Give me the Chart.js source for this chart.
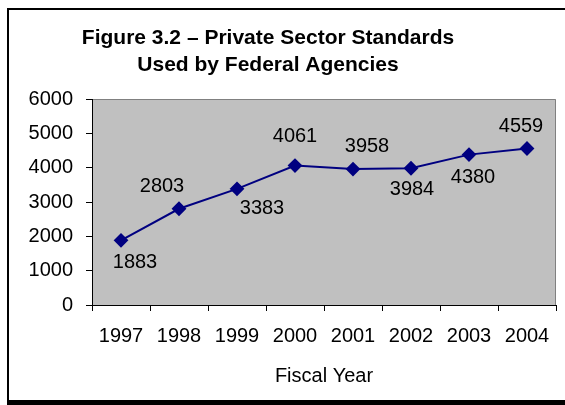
<!DOCTYPE html>
<html>
<head>
<meta charset="utf-8">
<script src="https://cdn.jsdelivr.net/npm/chart.js@4"></script>
<style>
  body { margin: 0; background: #fff; }
  #frame {
    position: absolute; left: 7px; top: 8px; width: 600px; height: 390px;
    border-left: 2px solid #000; border-top: 2px solid #000; border-bottom: 5px solid #000;
  }
  #c { position: absolute; left: 0; top: 0; }
</style>
</head>
<body>
<div id="frame"></div>
<canvas id="c" width="565" height="405"></canvas>
<script>
var years = ["1997", "1998", "1999", "2000", "2001", "2002", "2003", "2004"];
var standards = [1883, 2803, 3383, 4061, 3958, 3984, 4380, 4559];
var titleLines = ["Figure 3.2 \u2013 Private Sector Standards", "Used by Federal Agencies"];
var xTitle = "Fiscal Year";

// where each value label sits relative to its point
var labelShift = [[14, 22], [-17, -22], [25, 20], [0, -29], [14, -23], [1, 21], [4, 23], [-6, -22]];

var font = "'Liberation Sans', Arial, sans-serif";

var plotBg = {
  id: 'plotBg',
  beforeDraw: function(chart) {
    var a = chart.chartArea, ctx = chart.ctx;
    ctx.save();
    ctx.fillStyle = '#C0C0C0';
    ctx.fillRect(a.left, a.top, a.right - a.left, a.bottom - a.top);
    ctx.strokeStyle = '#808080';
    ctx.lineWidth = 1;
    ctx.beginPath();
    ctx.moveTo(a.left, a.top + 0.5);
    ctx.lineTo(a.right - 0.5, a.top + 0.5);
    ctx.lineTo(a.right - 0.5, a.bottom);
    ctx.stroke();
    ctx.restore();
  }
};

var headText = {
  id: 'headText',
  afterDraw: function(chart) {
    var ctx = chart.ctx;
    ctx.save();
    ctx.fillStyle = '#000';
    ctx.font = "bold 21px " + font;
    ctx.textAlign = 'center';
    ctx.textBaseline = 'middle';
    ctx.fillText(titleLines[0], 268, 38);
    ctx.fillText(titleLines[1], 268, 65);
    ctx.restore();
  }
};

var valueLabels = {
  id: 'valueLabels',
  afterDatasetsDraw: function(chart) {
    var ctx = chart.ctx;
    var pts = chart.getDatasetMeta(0).data;
    ctx.save();
    ctx.fillStyle = '#000';
    ctx.font = "20px " + font;
    ctx.textAlign = 'center';
    ctx.textBaseline = 'middle';
    pts.forEach(function(p, i) {
      ctx.fillText(String(standards[i]), p.x + labelShift[i][0], p.y + labelShift[i][1]);
    });
    ctx.restore();
  }
};

new Chart(document.getElementById('c'), {
  type: 'line',
  data: {
    labels: years,
    datasets: [{
      label: 'Standards',
      data: standards,
      borderColor: '#000080',
      backgroundColor: '#000080',
      borderWidth: 2,
      pointStyle: 'rectRot',
      pointRadius: 6,
      pointHoverRadius: 6,
      tension: 0
    }]
  },
  options: {
    responsive: false,
    animation: false,
    layout: { padding: { top: 99, right: 9, left: 0, bottom: 0 } },
    plugins: {
      legend: { display: false },
      title: { display: false },
      tooltip: { enabled: false }
    },
    scales: {
      x: {
        offset: true,
        afterFit: function(s) { s.height = 100; },
        grid: { offset: true, drawOnChartArea: false, tickLength: 6, color: '#000' },
        border: { color: '#000', width: 1 },
        ticks: { color: '#000', font: { family: font, size: 20 }, padding: 13, maxRotation: 0 },
        title: { display: true, text: xTitle, color: '#000', font: { family: font, size: 20 }, padding: { top: 0, bottom: 17 } }
      },
      y: {
        min: 0,
        max: 6000,
        afterFit: function(s) { s.width = 92; },
        grid: { drawOnChartArea: false, tickLength: 6, color: '#000' },
        border: { color: '#000', width: 1 },
        ticks: {
          stepSize: 1000, color: '#000', font: { family: font, size: 20 }, padding: 13,
          callback: function(v) { return String(v); }
        }
      }
    }
  },
  plugins: [plotBg, valueLabels, headText]
});
</script>
</body>
</html>
